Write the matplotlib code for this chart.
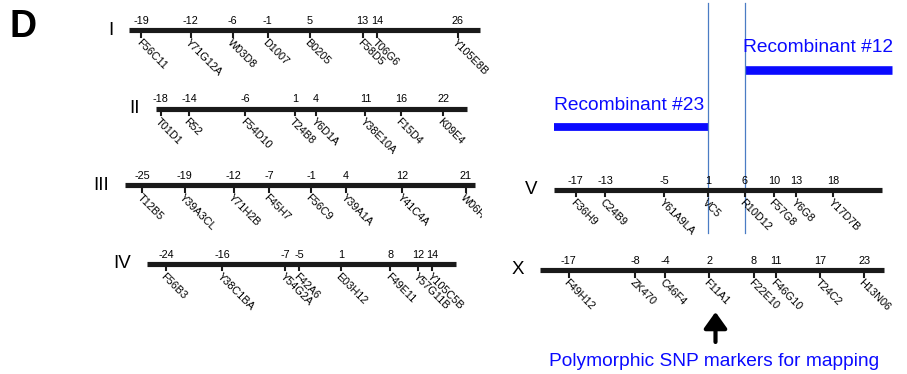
import matplotlib.pyplot as plt
from matplotlib.patches import Rectangle
from matplotlib import transforms

plt.rcParams['font.family'] = ['Liberation Sans', 'DejaVu Sans']

W, H = 907, 374

# marker positions (cM) and names per chromosome
chrI_pos = [-19, -12, -6, -1, 5, 13, 14, 26]
chrI_names = ['F56C11', 'Y71G12A', 'W03D8', 'D1007', 'B0205', 'F58D5', 'T06G6', 'Y105E8B']
chrII_pos = [-18, -14, -6, 1, 4, 11, 16, 22]
chrII_names = ['T01D1', 'R52', 'F54D10', 'T24B8', 'Y6D1A', 'Y38E10A', 'F15D4', 'K09E4']
chrIII_pos = [-25, -19, -12, -7, -1, 4, 12, 21]
chrIII_names = ['T12B5', 'Y39A3CL', 'Y71H2B', 'F45H7', 'F56C9', 'Y39A1A', 'Y41C4A', 'W06H3']
chrIV_pos = [-24, -16, -7, -5, 1, 8, 12, 14]
chrIV_names = ['F56B3', 'Y38C1BA', 'Y54G2A', 'F42A6', 'E03H12', 'F49E11', 'Y57G11B', 'Y105C5B']
chrV_pos = [-17, -13, -5, 1, 6, 10, 13, 18]
chrV_names = ['F36H9', 'C24B9', 'Y61A9LA', 'VC5', 'R10D12', 'F57G8', 'Y6G8', 'Y17D7B']
chrX_pos = [-17, -8, -4, 2, 8, 11, 17, 23]
chrX_names = ['F49H12', 'ZK470', 'C46F4', 'F11A1', 'F22E10', 'F46G10', 'T24C2', 'H13N06']

# recombinant breakpoints on chr V (cM)
rec23_span = (-20.0, 1)
rec12_span = (6, 26.0)
breakpoints = [1, 6]

# layout: label, positions, names, line left px, line right px, line y px, cM range of the line
chroms = [
    ('I', chrI_pos, chrI_names, 129, 480, 30, (-20.76, 29.19)),
    ('II', chrII_pos, chrII_names, 156, 467, 108.5, (-18.67, 25.39)),
    ('III', chrIII_pos, chrIII_names, 125, 474.5, 185, (-27.48, 22.28)),
    ('IV', chrIV_pos, chrIV_names, 147, 456, 263.5, (-26.71, 17.37)),
    ('V', chrV_pos, chrV_names, 553.5, 882, 189.5, (-20.02, 24.65)),
    ('X', chrX_pos, chrX_names, 540, 884, 270, (-20.91, 25.67)),
]
# small sideways shifts (points) for crowded marks
nudge = {('I', 13): -2.5, ('I', 14): 3.0}

fig = plt.figure(figsize=(W / 100, H / 100), dpi=100)
over = fig.add_axes([0, 0, 1, 1])
over.set_xlim(0, W)
over.set_ylim(H, 0)
over.axis('off')

over.text(10, 37, 'D', fontsize=27, fontweight='bold', ha='left', va='baseline')

axes = {}
for label, pos, names, left, right, y, lim in chroms:
    h = 12
    ax = fig.add_axes([left / W, 1 - (y + h / 2) / H, (right - left) / W, h / H])
    ax.set_xlim(*lim)
    ax.set_ylim(-6, 6)
    ax.axis('off')
    axes[label] = ax
    ax.plot(lim, [0, 0], color='#1a1a1a', lw=3.7, solid_capstyle='butt', clip_on=False)
    for p, n in zip(pos, names):
        dx = nudge.get((label, p), 0)
        tr_p = transforms.offset_copy(ax.transData, fig=fig, x=dx, y=0, units='points')
        ax.plot([p, p], [-6.5, 0], color='#1a1a1a', lw=1.5, clip_on=False, transform=tr_p)
        ax.text(p, 4, str(p), fontsize=7.8, ha='center', va='bottom', clip_on=False, transform=tr_p)
        t = ax.text(p, -7.5, n, fontsize=7.8, rotation=-45, rotation_mode='anchor',
                    ha='left', va='top', clip_on=False, transform=tr_p)
        if label == 'III':
            clip = Rectangle((0, 0), 481.5, H, transform=over.transData)
            t.set_clip_path(clip)
            t.set_clip_on(True)
    over.text(left - 16, y, label, fontsize=13.5, ha='right', va='center')

# recombinant intervals and breakpoints drawn against chr V scale
axV = axes['V']
tr = transforms.blended_transform_factory(axV.transData, over.transData)
blue = '#0a0aff'
over.plot(rec23_span, [126.5, 126.5], color=blue, lw=5.6, solid_capstyle='butt', transform=tr)
over.plot(rec12_span, [69.5, 69.5], color=blue, lw=6.2, solid_capstyle='butt', transform=tr)
over.text(rec23_span[0], 110, 'Recombinant #23', color=blue, fontsize=13.8, ha='left', va='baseline', transform=tr)
over.text(rec12_span[0] - 0.2, 52, 'Recombinant #12', color=blue, fontsize=13.8, ha='left', va='baseline', transform=tr)
for b in breakpoints:
    over.plot([b, b], [3, 233], color='#4a7cc4', lw=0.9, transform=tr)

over.annotate('', xy=(715.5, 312), xytext=(715.5, 342),
              arrowprops=dict(arrowstyle='-|>,head_width=0.5,head_length=0.7', lw=3, color='black',
                              mutation_scale=14, shrinkA=0, shrinkB=0))
over.text(549, 366, 'Polymorphic SNP markers for mapping', color=blue, fontsize=13.8,
          ha='left', va='baseline')

fig.savefig('out.png', dpi=100)
